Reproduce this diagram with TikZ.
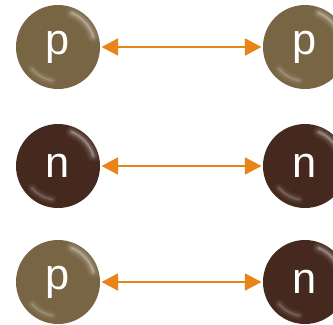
\documentclass[tikz,border=0pt]{standalone}
\usepackage{fontspec}
\setmainfont{Liberation Sans}
\usepackage{tikz}
\usetikzlibrary{positioning,arrows.meta}
\definecolor{pcol}{HTML}{786544}
\definecolor{ncol}{HTML}{45291E}
\definecolor{arrcol}{HTML}{E8851A}
\begin{document}
\begin{tikzpicture}[
  x=0.03cm, y=-0.03cm,
  ball/.style={circle, minimum size=2.52cm, inner sep=0pt, text=white,
    font=\fontsize{37}{40}\selectfont,
    path picture={
      \foreach \w/\o in {10/0.05,7/0.07,4.5/0.1,2.5/0.14,1/0.2}
        \draw[white, opacity=\o, line width=\w pt, line cap=round]
          ([shift={(16:1.1cm)}]path picture bounding box.center) arc (16:68:1.1cm);
      \foreach \w/\o in {8/0.04,5/0.06,2.5/0.09,1/0.12}
        \draw[white, opacity=\o, line width=\w pt, line cap=round]
          ([shift={(220:1.02cm)}]path picture bounding box.center) arc (220:260:1.02cm);
    }},
  prot/.style={ball, fill=pcol},
  neut/.style={ball, fill=ncol},
  link/.style={arrcol, line width=2.5pt, {Triangle[length=0.5cm,width=0.5cm]}-{Triangle[length=0.5cm,width=0.5cm]}, shorten <=1pt, shorten >=1pt},
]
\clip (0,0) rectangle (333,324);
% row 1: p -- p
\node[prot] (p1) at (58,47) {p};
\node[prot] (p2) at (305,47) {p};
\draw[link] (p1.east) -- (p2.west);
% row 2: n -- n
\node[neut] (n1) at (58,166) {n};
\node[neut] (n2) at (305,166) {n};
\draw[link] (n1.east) -- (n2.west);
% row 3: p -- n
\node[prot] (p3) at (58,282) {p};
\node[neut] (n3) at (305,282) {n};
\draw[link] (p3.east) -- (n3.west);
\end{tikzpicture}
\end{document}
